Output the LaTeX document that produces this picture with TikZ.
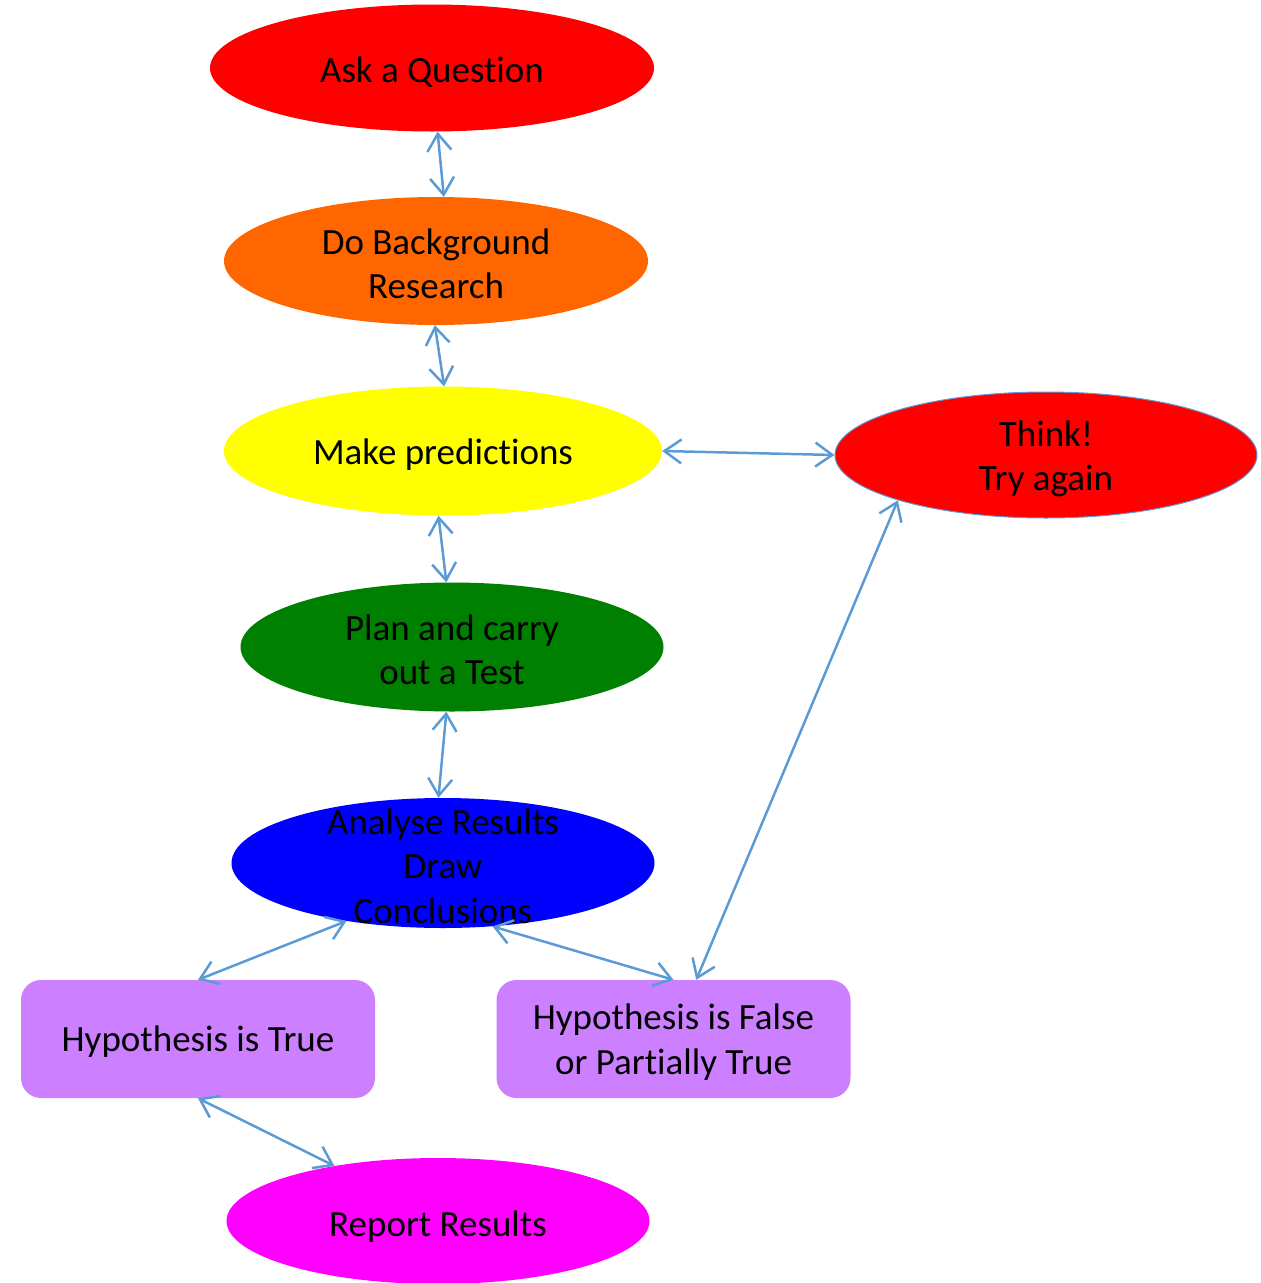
\documentclass[tikz,border=0pt]{standalone}
\usepackage{fontspec}
\setmainfont{Carlito}[RawFeature={-liga;-clig;-dlig}]
\usetikzlibrary{shapes.geometric,arrows.meta}
\definecolor{arr}{RGB}{91,155,213}
\definecolor{hyp}{RGB}{204,128,255}
\definecolor{orng}{RGB}{255,102,0}
\definecolor{grn}{RGB}{0,128,0}
\definecolor{rd}{RGB}{255,0,0}
\definecolor{yel}{RGB}{255,255,0}
\definecolor{blu}{RGB}{0,0,255}
\definecolor{mag}{RGB}{255,0,255}
\tikzset{
  ell/.style={ellipse, inner sep=0pt, draw=none},
  txt/.style={align=center, font=\fontsize{37}{44.5}\selectfont, text=black, inner sep=0pt},
  hbox/.style={rectangle, rounded corners=20pt, fill=hyp, draw=none, minimum width=354pt, minimum height=118pt, inner sep=0pt, align=center, font=\fontsize{37}{44.5}\selectfont},
  link/.style={draw=arr, line width=2.5pt, {Straight Barb[length=17pt,width=24pt]}-{Straight Barb[length=17pt,width=24pt]}}
}
\begin{document}
\begin{tikzpicture}[x=1pt,y=-1pt]
\useasboundingbox (0,0) rectangle (1261,1283);
% ellipses
\node[ell, fill=rd, minimum width=444pt, minimum height=127pt] (ask) at (432,68) {};
\node[txt] (askt) at (432,72) {Ask a Question};
\node[ell, fill=orng, minimum width=424pt, minimum height=128pt] (bg) at (436,261) {};
\node[txt] (bgt) at (436,264) {Do Background\\Research};
\node[ell, fill=yel, minimum width=438pt, minimum height=129pt] (pred) at (443,451) {};
\node[txt] (predt) at (443,455) {Make predictions};
\node[ell, fill=grn, minimum width=423pt, minimum height=129pt] (plan) at (452,647) {};
\node[txt] (plant) at (452,650) {Plan and carry\\out a Test};
\node[ell, fill=blu, minimum width=423pt, minimum height=130pt] (ana) at (443,863) {};
\node[txt] (anat) at (443,866) {Analyse Results\\Draw\\Conclusions};
\node[ell, fill=rd, draw=arr, line width=1pt, minimum width=422pt, minimum height=126pt] (think) at (1046,455) {};
\node[txt] (thinkt) at (1046,459) {Think!\\Try again};
\node[ell, fill=mag, minimum width=423pt, minimum height=126pt] (rep) at (438,1221) {};
\node[txt] (rept) at (438,1227) {Report Results};
% boxes
\node[hbox] (ht) at (198,1039) {};
\node[txt] (htt) at (198,1042) {Hypothesis is True};
\node[hbox] (hf) at (673.5,1039) {};
\node[txt] (hft) at (673.5,1042) {Hypothesis is False\\or Partially True};
% connectors
\draw[link] (ask.275) -- (bg.83);
\draw[link] (bg.269) -- (pred.89);
\draw[link] (pred.0) -- (think.180);
\draw[link] (pred.266) -- (plan.95);
\draw[link] (plan.265) -- (ana.94);
\draw[link] (ana.211) -- (ht.north);
\draw[link] (ana.308) -- (hf.north);
\draw[link] (think.197) -- (hf.69);
\draw[link] (ht.south) -- (rep.152);
\end{tikzpicture}
\end{document}
